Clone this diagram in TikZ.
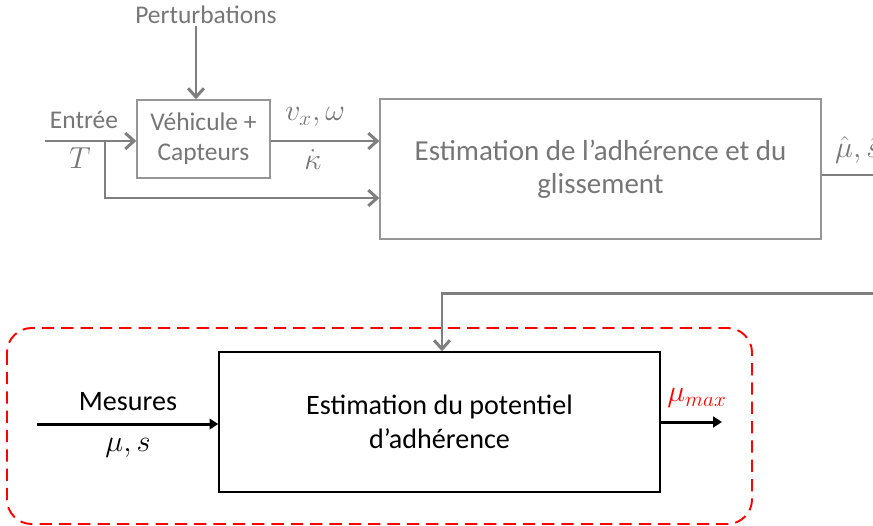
\documentclass[tikz,border=0pt]{standalone}
\usepackage{amsmath,amssymb}
\usepackage{fontspec}
\setmainfont{Carlito}
\usepackage{tikz}
\usetikzlibrary{arrows.meta,positioning,calc}
\definecolor{lineGrey}{RGB}{127,127,127}
\definecolor{textGrey}{RGB}{118,118,118}
\definecolor{boxGrey}{RGB}{150,150,150}
\definecolor{mesRed}{RGB}{255,0,0}

\begin{document}
\begin{tikzpicture}[
  txt/.style={font=\fontsize{14.5}{17}\selectfont, text=#1, inner sep=1pt},
  txt/.default=textGrey,
  mlab/.style={font=\fontsize{17}{19}\selectfont, text=#1, inner sep=1pt},
  mlab/.default=textGrey,
  gblock/.style={rectangle, draw=boxGrey, line width=0.8pt, align=center, text=textGrey},
  kblock/.style={rectangle, draw=black, line width=0.8pt, align=center,
                 font=\fontsize{16}{19}\selectfont},
  garrow/.style={-{Straight Barb[length=5pt,width=9pt]}, line width=1.7pt, lineGrey},
  gline/.style={line width=1.7pt, lineGrey},
  karrow/.style={-{Triangle[length=5pt,width=6pt]}, line width=1.7pt, black},
  group/.style={draw=mesRed, line width=1.1pt, dash pattern=on 7pt off 4pt, rounded corners=14pt}
]
\clip (0,0) rectangle (17.46,-10.5);

% Top: slip and adhesion estimation
\node[txt] (pert) at (4.12,-0.3) {Perturbations};
\node[gblock, minimum width=2.66cm, minimum height=1.56cm, font=\fontsize{14.5}{17}\selectfont] (veh) at (4.07,-2.78) {Véhicule +\\Capteurs};
\node[gblock, minimum width=8.82cm, minimum height=2.8cm, font=\fontsize{16.5}{19}\selectfont] (est) at (12.01,-3.38) {Estimation de l’adhérence et du\\glissement};

\coordinate (in) at (0.9,-2.82);
\coordinate (br) at (2.1,-2.82);
\coordinate (out) at (17.6,-3.5);

\draw[garrow] ([xshift=-0.2cm]pert.south) -- ([xshift=-0.2cm]pert.south |- veh.north);
\draw[garrow] (in) -- (veh.west |- in);
\draw[garrow] (br) |- ($(est.west)+(0,-0.58)$);
\draw[garrow] (veh.east |- in) -- (est.west |- in);
\draw[gline] (est.east |- out) -- (out);

\node[txt] (entree) at (1.68,-2.4) {Entrée};
\node[mlab] (tq) at (1.6,-3.16) {$T$};
\node[mlab] (vx) at (6.3,-2.34) {$v_x,\omega$};
\node[mlab] (kap) at (6.26,-3.2) {$\dot{\kappa}$};
\node[mlab, anchor=west] (muhat) at (16.66,-3.0) {$\hat{\mu},\hat{s}$};

% Bottom: adhesion potential
\node[kblock, minimum width=8.82cm, minimum height=2.8cm] (pot) at (8.79,-8.44) {Estimation du potentiel\\d’adhérence};
\draw[group] (0.14,-6.56) rectangle (15.04,-10.48);

\coordinate (fb) at (17.6,-5.86);
\coordinate (mes) at (0.74,-8.48);
\coordinate (mumax) at (14.44,-8.44);

\draw[garrow] (fb) -| ([xshift=0.05cm]pot.north);
\draw[karrow] (mes) -- (pot.west |- mes);
\draw[karrow] (pot.east |- mumax) -- (mumax);

\node[txt=black, font=\fontsize{16}{18}\selectfont] (mesures) at (2.56,-8.04) {Mesures};
\node[mlab=black] (mus) at (2.56,-8.96) {$\mu,s$};
\node[mlab=mesRed] (mulab) at (13.94,-7.96) {$\mu_{max}$};
\end{tikzpicture}
\end{document}
